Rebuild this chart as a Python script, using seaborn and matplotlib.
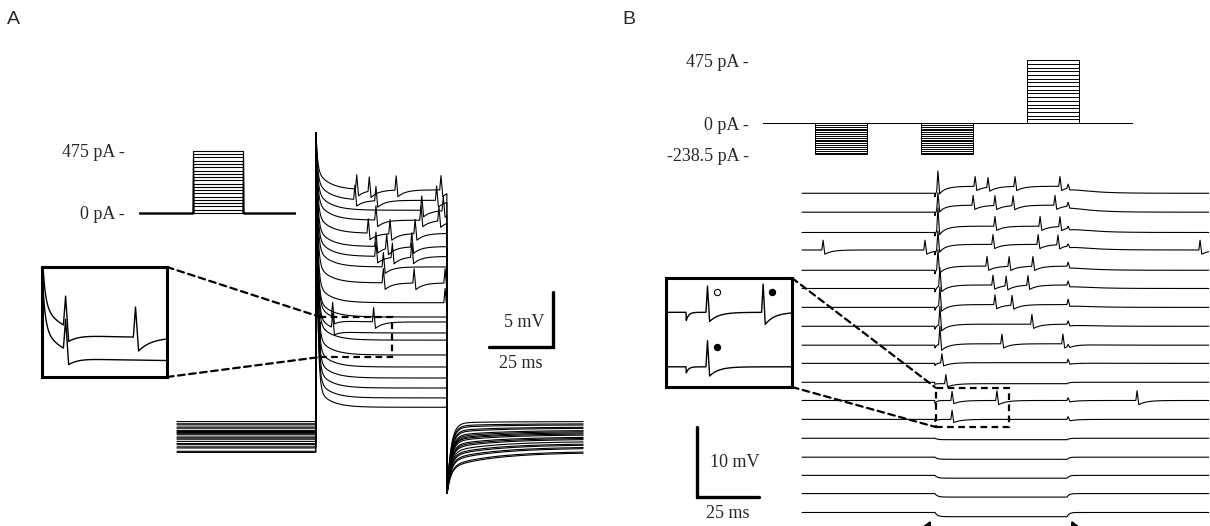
import numpy as np
import pandas as pd
import matplotlib
matplotlib.use("Agg")
import matplotlib.pyplot as plt
import seaborn as sns
from matplotlib.patches import Rectangle, ConnectionPatch

# ======================= DATA =======================
# ---- Panel A : current-step family (ms, mV relative to rest) ----
A_stim_pA = [0, 25, 50, 75, 100, 125, 150, 175, 200, 225,
             250, 275, 300, 325, 350, 375, 400, 425, 450, 475]
A_step_on, A_step_off, A_t_end = 54.3, 105.5, 158.6
A_peak_mV = 27.6
A_dip_mV = -5.1
A_slow_on_mV = 1.8
A_plateau_mV = [22.45, 21.5, 20.6, 19.7, 18.5, 17.3, 16.4, 15.45, 14.0, 12.2,
                10.9, 10.45, 9.45, 8.8, 7.45, 6.36, 5.36, 4.45, 3.55, 2.7]
A_rest_mV = [0.9, 1.4, 0.3, 1.1, -0.2, 0.6, -0.7, 1.2, 0.0, -1.0,
             0.5, -0.4, 0.8, -1.3, 0.2, -0.9, -0.1, -1.4, 0.4, -0.6]
A_recovery_slow_mV = [0.35, 0.12, 0.6, 0.25, 0.85, 0.5, 1.05, 0.2, 0.75, 1.2,
                      0.55, 0.95, 0.4, 1.35, 0.65, 1.15, 0.8, 1.4, 0.6, 1.0]
# spike times, ms after step onset
A_spikes_ms = [[15.9, 20.8, 31.3, 48.8], [15.2, 23.4, 47.1], [41.3, 49.7],
               [23.4, 41.0, 48.0], [20.4, 28.9, 38.7], [23.4, 27.6, 37.4],
               [23.4, 29.8, 37.4], [26.3], [26.3, 38.3, 50.4], [50.4],
               [], [6.5, 22.5], [6.5], [], [], [], [], [], [], []]
A_inset_traces = [11, 12]
A_box = dict(t=(56.0, 84.0), v=(7.27, 10.9))          # dashed zoom window
A_inset_view = dict(t=(55.4, 84.0), v=(8.74, 13.5))   # inset view
A_bar = dict(t=146.9, v=8.18, dt=25, dv=5)            # scale bar corner

# ---- Panel B ----
B_neg_pA = [0, -14, -28, -42, -56, -70, -84, -98, -112, -126, -140,
            -154, -168, -182, -196, -210, -224, -238.5]
B_pos_pA = [0, 28, 56, 84, 112, 140, 168, 196, 224, 252, 280,
            308, 336, 364, 392, 420, 448, 475]
B_stim_edges_ms = [50, 100, 152, 202, 254, 304, 356]
B_step_on, B_step_off, B_t_end = 53.6, 106.9, 164.0
B_offset_mV = [0, -2.7, -5.6, -8.1, -11.0, -13.6, -16.3, -19.0, -21.7, -24.3,
               -27.0, -29.6, -32.3, -35.0, -37.7, -40.3, -42.9, -45.6]
B_shift_mV = [1.0, 1.0, 0.9, 0.8, 0.6, 0.5, 0.4, 0.3, 0.2, 0.1,
              -0.2, 0.0, 0.0, -0.2, -0.3, -0.4, -0.5, -0.6]
B_onset_dip_mV = [0.5, 0.5, 0.5, 0.5, 0.5, 0.5, 0.4, 0.4, 0.4, 0.3,
                  0.3, 0.4, 0.3, 0, 0, 0, 0, 0]
B_onset_delay_ms = [1.2, 1.2, 1.2, 1.2, 1.2, 2.0, 2.0, 2.0, 2.0, 2.8,
                    4.4, 6.9, 6.9, 0, 0, 0, 0, 0]
B_onset_amp_mV = [2.6, 2.2, 3.0, 2.4, 2.6, 2.6, 2.6, 2.6, 2.6, 1.3,
                  1.3, 1.3, 1.3, 0, 0, 0, 0, 0]
B_spikes_ms = [[69.8, 75.0, 85.9, 104.0], [69.0, 77.8, 85.1, 102.0],
               [77.8, 96.0, 104.0], [8.5, 49.6, 77.0, 95.2, 103.2, 160.5],
               [74.6, 83.5, 93.1], [77.0, 82.3, 91.1], [77.8, 84.7], [92.7],
               [80.6, 105.2], [], [], [78.6, 135.1], [], [], [], [], [], []]
B_off_bump_mV = [0.6, 0.6, 0.3, 0.3, 0.6, 0.6, 0.8, 0.5, 0.3, 0.5,
                 0.0, 0.4, 0.4, 0, 0, 0, 0, 0]
B_inset_traces = [11, 12]
B_markers = [(11, 60.5, False), (11, 78.6, True), (12, 60.5, True)]
B_box = dict(t=(54.0, 83.5), v=(-33.4, -27.8))
B_inset_view = dict(t=(47.0, 88.0), v=(-33.3, -27.9))
B_bar = dict(t=-42.3, v=-43.4, dt=25, dv=10)

# ======================= MODEL HELPERS =======================
DT = 0.1


def spike(t, ts, amp, under):
    d = t - ts
    out = np.zeros_like(t)
    m = (d > -0.5) & (d <= 0)
    out[m] = amp * (d[m] + 0.5) / 0.5
    m = (d > 0) & (d <= 0.7)
    out[m] = amp - (amp + under) * d[m] / 0.7
    m = d > 0.7
    out[m] = -under * np.exp(-(d[m] - 0.7) / 3.0)
    return out


tA = np.arange(0, A_t_end + DT / 2, DT)
tB = np.arange(0, B_t_end + DT / 2, DT)


def trace_A(i):
    t = tA
    r = A_rest_mV[i]
    v = np.full_like(t, r)
    m = (t >= A_step_on) & (t < A_step_off)
    d = t[m] - A_step_on
    p = A_plateau_mV[i]
    v[m] = p + (A_peak_mV - p - A_slow_on_mV) * np.exp(-d / 0.6) + A_slow_on_mV * np.exp(-d / 5)
    for s in A_spikes_ms[i]:
        v[m] += spike(t[m], A_step_on + s, 1.3, 0.6)
    m2 = t >= A_step_off
    d2 = t[m2] - A_step_off
    sl = A_recovery_slow_mV[i]
    v[m2] = r - (r - A_dip_mV - sl) * np.exp(-d2 / 1.5) - sl * np.exp(-d2 / 18)
    return v


def trace_B(k):
    t = tB
    v = np.full_like(t, B_offset_mV[k])
    sh = B_shift_mV[k]
    tau_off = 8.0 if sh > 0 else 0.8
    m = (t >= B_step_on) & (t < B_step_off)
    d = t[m] - B_step_on
    v[m] += sh * (1 - np.exp(-d / 1.0)) - B_onset_dip_mV[k] * np.exp(-d / 0.8)
    m2 = t >= B_step_off
    v[m2] += sh * np.exp(-(t[m2] - B_step_off) / tau_off)
    a = B_onset_amp_mV[k]
    if a > 0:
        v += spike(t, B_step_on + B_onset_delay_ms[k], a, 0.35 * a)
    for s in B_spikes_ms[k]:
        v += spike(t, s, 1.4, 0.6)
    if B_off_bump_mV[k] > 0:
        v += spike(t, B_step_off + 0.4, B_off_bump_mV[k], 0.2)
    return v


dfA = pd.concat([pd.DataFrame({"t": tA, "v": trace_A(i), "trace": i})
                 for i in range(len(A_plateau_mV))], ignore_index=True)
dfB = pd.concat([pd.DataFrame({"t": tB, "v": trace_B(k), "trace": k})
                 for k in range(len(B_offset_mV))], ignore_index=True)

stimA = pd.concat([pd.DataFrame({
    "t": [0, A_step_on, A_step_on, A_step_off, A_step_off, A_t_end],
    "I": [0, 0, I, I, 0, 0], "sweep": j}) for j, I in enumerate(A_stim_pA)],
    ignore_index=True)
e = B_stim_edges_ms
stimB = pd.concat([pd.DataFrame({
    "t": [0, e[0], e[0], e[1], e[1], e[2], e[2], e[3], e[3], e[4], e[4], e[5], e[5], e[6]],
    "I": [0, 0, n, n, 0, 0, n, n, 0, 0, p, p, 0, 0], "sweep": j})
    for j, (n, p) in enumerate(zip(B_neg_pA, B_pos_pA))], ignore_index=True)

# ======================= FIGURE =======================
sns.set_theme(style="white")
plt.rcParams["font.family"] = ["Liberation Serif", "DejaVu Serif"]
W, H = 1210, 526
fig = plt.figure(figsize=(W / 100, H / 100), dpi=100)
fig.patch.set_facecolor("white")


def add_ax(x0, y0, x1, y1):
    return fig.add_axes([x0 / W, 1 - y1 / H, (x1 - x0) / W, (y1 - y0) / H])


LW = 0.8
TXT = 13

# ---- stimulus A ----
sA = add_ax(139, 140, 296, 225)
sns.lineplot(data=stimA, x="t", y="I", units="sweep", estimator=None, sort=False,
             color="black", linewidth=0.8, ax=sA, legend=False)
sA.set_xlim(0, A_t_end)
sA.set_ylim(-92, 559)
sA.set_yticks([475, 0], ["475 pA -", "0 pA -"])
sA.set_xticks([])
sA.tick_params(axis="y", length=0, pad=10, labelsize=TXT)
sA.set_xlabel(""); sA.set_ylabel("")
for sp in sA.spines.values():
    sp.set_visible(False)
sA.patch.set_alpha(0)

# ---- traces A ----
axA = add_ax(170, 120, 600, 505)
sns.lineplot(data=dfA, x="t", y="v", units="trace", estimator=None, sort=False,
             color="black", linewidth=LW, ax=axA, legend=False)
axA.set_xlim(-2.73, 165.2)
axA.set_ylim(-6.18, 28.8)
axA.axis("off")
axA.add_patch(Rectangle((A_box["t"][0], A_box["v"][0]), A_box["t"][1] - A_box["t"][0],
                        A_box["v"][1] - A_box["v"][0], fill=False, ec="black",
                        lw=1.6, ls=(0, (3, 2)), zorder=5))
b = A_bar
axA.plot([b["t"] - b["dt"], b["t"], b["t"]], [b["v"], b["v"], b["v"] + b["dv"]],
         color="black", lw=2.4, solid_joinstyle="miter", clip_on=False)
axA.annotate(f"{b['dv']} mV", (b["t"], b["v"] + b["dv"] * 0.45), xytext=(-6, 0),
             textcoords="offset points", ha="right", va="center", fontsize=TXT)
axA.annotate(f"{b['dt']} ms", (b["t"] - b["dt"] / 2, b["v"]), xytext=(0, -12),
             textcoords="offset points", ha="center", va="center", fontsize=TXT)

# ---- inset A ----
iA = add_ax(42, 267, 167, 377)
sns.lineplot(data=dfA[dfA["trace"].isin(A_inset_traces)], x="t", y="v", units="trace",
             estimator=None, sort=False, color="black", linewidth=1.0, ax=iA, legend=False)
iA.set_xlim(*A_inset_view["t"]); iA.set_ylim(*A_inset_view["v"])
iA.set_xticks([]); iA.set_yticks([]); iA.set_xlabel(""); iA.set_ylabel("")
for sp in iA.spines.values():
    sp.set_visible(True); sp.set_color("black"); sp.set_linewidth(2.2)

for ya, vb in [(1, A_box["v"][1]), (0, A_box["v"][0])]:
    con = ConnectionPatch(xyA=(1, ya), coordsA=iA.transAxes,
                          xyB=(A_box["t"][0], vb), coordsB=axA.transData,
                          color="black", lw=1.6, ls=(0, (3, 2)))
    fig.add_artist(con)

# ---- stimulus B ----
sB = add_ax(763, 45, 1133, 170)
sns.lineplot(data=stimB, x="t", y="I", units="sweep", estimator=None, sort=False,
             color="black", linewidth=0.7, ax=sB, legend=False)
sB.set_xlim(0, B_stim_edges_ms[-1])
sB.set_ylim((123 - 170) / 0.132, (123 - 45) / 0.132)
sB.set_yticks([475, 0, -238.5], ["475 pA -", "0 pA -", "-238.5 pA -"])
sB.set_xticks([])
sB.tick_params(axis="y", length=0, pad=10, labelsize=TXT)
sB.set_xlabel(""); sB.set_ylabel("")
for sp in sB.spines.values():
    sp.set_visible(False)
sB.patch.set_alpha(0)

# ---- traces B ----
axB = add_ax(690, 165, 1210, 526)
sns.lineplot(data=dfB, x="t", y="v", units="trace", estimator=None, sort=False,
             color="black", linewidth=LW, ax=axB, legend=False)
axB.set_xlim(-45.16, 164.5)
axB.set_ylim(-47.53, 4.04)
axB.axis("off")
axB.add_patch(Rectangle((B_box["t"][0], B_box["v"][0]), B_box["t"][1] - B_box["t"][0],
                        B_box["v"][1] - B_box["v"][0], fill=False, ec="black",
                        lw=1.6, ls=(0, (3, 2)), zorder=5))
b = B_bar
axB.plot([b["t"], b["t"], b["t"] + b["dt"]], [b["v"] + b["dv"], b["v"], b["v"]],
         color="black", lw=2.4, solid_joinstyle="miter", clip_on=False)
axB.annotate(f"{b['dv']} mV", (b["t"], b["v"] + b["dv"] * 0.5), xytext=(9, 0),
             textcoords="offset points", ha="left", va="center", fontsize=TXT)
axB.annotate(f"{b['dt']} ms", (b["t"] + b["dt"] / 2, b["v"]), xytext=(0, -12),
             textcoords="offset points", ha="center", va="center", fontsize=TXT)

# arrows marking step on/off
yb = B_offset_mV[-1] - 0.8
for tt, side in [(B_step_on - 1.2, -1), (B_step_off + 1.2, 1)]:
    axB.annotate("", xy=(tt, yb), xytext=(tt + side * 8, yb - 6),
                 arrowprops=dict(arrowstyle="-|>,head_length=1.0,head_width=0.55",
                                 color="black", lw=1.5),
                 annotation_clip=False)

# ---- inset B ----
iB = add_ax(666, 278, 792, 387)
sns.lineplot(data=dfB[dfB["trace"].isin(B_inset_traces)], x="t", y="v", units="trace",
             estimator=None, sort=False, color="black", linewidth=1.0, ax=iB, legend=False)
for k, ts, filled in B_markers:
    iB.plot([ts + 3.0], [B_offset_mV[k] + 1.0], marker="o", ms=4.5,
            mfc="black" if filled else "white", mec="black", mew=0.8, ls="none")
iB.set_xlim(*B_inset_view["t"]); iB.set_ylim(*B_inset_view["v"])
iB.set_xticks([]); iB.set_yticks([]); iB.set_xlabel(""); iB.set_ylabel("")
for sp in iB.spines.values():
    sp.set_visible(True); sp.set_color("black"); sp.set_linewidth(2.2)

for ya, vb in [(1, B_box["v"][1]), (0, B_box["v"][0])]:
    con = ConnectionPatch(xyA=(1, ya), coordsA=iB.transAxes,
                          xyB=(B_box["t"][0], vb), coordsB=axB.transData,
                          color="black", lw=1.6, ls=(0, (3, 2)))
    fig.add_artist(con)

# ---- panel letters ----
fig.text(7 / W, 1 - 20 / H, "A", fontsize=14, family=["Liberation Sans", "DejaVu Sans"],
         va="center", ha="left")
fig.text(622 / W, 1 - 20 / H, "B", fontsize=14, family=["Liberation Sans", "DejaVu Sans"],
         va="center", ha="left")

fig.savefig("out.png", dpi=100, facecolor="white")
